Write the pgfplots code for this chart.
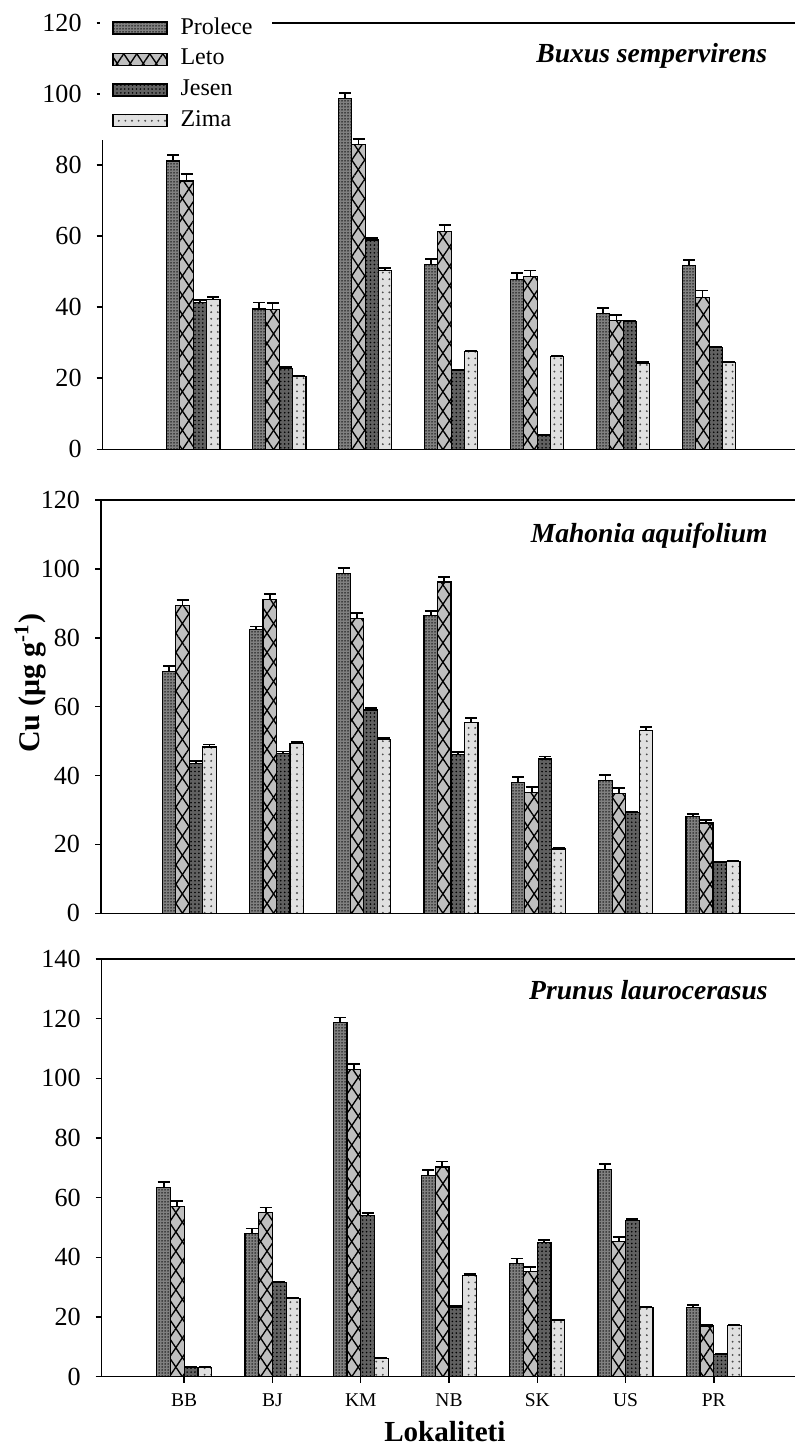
\documentclass[border=0pt]{standalone}
\usepackage{fontspec}
\setmainfont{Liberation Serif}
\usepackage{pgfplots}
\usepackage{pgfplotstable}
\pgfplotsset{compat=1.18}
\usetikzlibrary{patterns.meta}

% Cu content per site and season: value and standard error
\pgfplotstableread{
x p pe l le j je z ze
1 81.1 1.7 75.5 1.9 41.2 0.7 42.2 0.6
2 39.5 1.8 39.4 1.8 22.8 0.3 20.4 0.2
3 98.6 1.6 85.7 1.7 58.9 0.5 50.4 0.6
4 52.0 1.5 61.3 1.8 22.1 0.3 27.5 0.3
5 47.8 1.7 48.6 1.7 4.0 0.1 26.1 0.3
6 38.1 1.6 36.2 1.6 35.9 0.3 24.2 0.3
7 51.7 1.6 42.8 1.9 28.6 0.3 24.4 0.3
}\buxus
\pgfplotstableread{
x p pe l le j je z ze
1 70.1 1.7 89.3 1.7 43.5 0.8 48.3 0.7
2 82.5 0.8 91.0 1.7 46.5 0.5 49.2 0.6
3 98.7 1.5 85.6 1.6 59.0 0.5 50.5 0.5
4 86.5 1.3 96.2 1.5 46.2 0.7 55.5 1.2
5 38.0 1.5 35.0 1.7 44.8 0.7 18.7 0.2
6 38.5 1.7 34.8 1.6 29.2 0.3 53.0 1.0
7 28.0 0.8 26.2 0.8 14.7 0.3 15.0 0.2
}\mahonia
\pgfplotstableread{
x p pe l le j je z ze
1 63.5 1.8 57.0 1.8 3.0 0.2 3.2 0.2
2 48.0 1.7 55.0 1.7 31.5 0.3 26.2 0.3
3 118.6 1.8 103.0 1.7 54.0 0.8 6.0 0.2
4 67.5 1.7 70.3 1.8 23.3 0.3 34.0 0.3
5 38.0 1.6 35.3 1.5 45.0 0.7 19.0 0.2
6 69.5 1.7 45.3 1.5 52.3 0.5 23.2 0.2
7 23.3 0.6 17.0 0.5 7.5 0.2 17.2 0.2
}\prunus

\tikzset{ptitle/.style={anchor=base east, font=\bfseries\itshape\fontsize{9.2}{11}\selectfont}}

\pgfplotsset{
  barPro/.style={draw=black, line width=0.4pt, fill=black!50,
    postaction={pattern={Dots[distance=1pt, radius=0.25pt]}, pattern color=black}},
  barLeto/.style={draw=black, line width=0.4pt, fill=black!25,
    postaction={pattern={Lines[angle=56, distance=3.6pt, line width=0.45pt]}, pattern color=black},
    postaction={pattern={Lines[angle=-56, distance=3.6pt, line width=0.45pt]}, pattern color=black}},
  barJes/.style={draw=black, line width=0.4pt, fill=black!62,
    postaction={pattern={Dots[distance=1.3pt, radius=0.3pt]}, pattern color=black}},
  barZim/.style={draw=black, line width=0.4pt, fill=black!12,
    postaction={pattern={Dots[distance=2.2pt, radius=0.35pt]}, pattern color=black!70}},
  eb/.style={error bars/.cd, y dir=plus, y explicit,
    error bar style={line width=0.6pt, black},
    error mark=|, error mark options={line width=0.6pt, mark size=2pt, black}},
  panel/.style={
    scale only axis, ybar=0pt, clip=false,
    axis x line*=bottom, axis y line*=left,
    axis line style={line width=0.5pt},
    tick align=outside, major tick length=2pt,
    tick style={line width=0.5pt, black},
    ymin=0, enlargelimits=false,
    /pgf/number format/assume math mode=true,
    yticklabel style={font=\fontsize{8.7}{10}\selectfont, xshift=-1.5pt},
  },
}

\begin{document}
\begin{tikzpicture}
\useasboundingbox (0,0) rectangle (265pt,484.67pt);

% Buxus sempervirens
\begin{axis}[panel,
  at={(34.23pt,334.9pt)}, anchor=south west,
  width=230.8pt, height=142.17pt,
  xmin=-0.053, xmax=8.0, ymax=120, ytick={0,20,...,120},
  xtick=\empty, bar width=4.45pt,
  legend style={at={(axis description cs:-0.005,1.035)}, anchor=north west,
    draw=none, fill=white, font=\fontsize{8}{9.6}\selectfont,
    row sep=-0.5pt, inner xsep=4.2pt, inner ysep=1pt, cells={anchor=west}},
  legend image code/.code={\draw[#1] (0pt,-2pt) rectangle (18pt,2pt); \path (20.3pt,0pt);},
]
\draw[line width=0.5pt] (rel axis cs:0.2446,1) -- (rel axis cs:1,1);
\addplot[barPro, eb] table[x=x, y=p, y error=pe]{\buxus};
\addplot[barLeto, eb] table[x=x, y=l, y error=le]{\buxus};
\addplot[barJes, eb] table[x=x, y=j, y error=je]{\buxus};
\addplot[barZim, eb] table[x=x, y=z, y error=ze]{\buxus};
\legend{Prolece, Leto, Jesen, Zima}
\node[ptitle] at (rel axis cs:0.975,0.906) {Buxus sempervirens};
\end{axis}

% Mahonia aquifolium
\begin{axis}[panel,
  at={(33.67pt,180.23pt)}, anchor=south west,
  width=231.33pt, height=137.77pt,
  xmin=-0.011, xmax=7.94, ymax=120, ytick={0,20,...,120},
  xtick=\empty, bar width=4.5pt,
  ylabel={\bfseries Cu (μg g\textsuperscript{-1})},
  ylabel style={at={(axis description cs:-0.102,0.557)}, anchor=center,
    font=\fontsize{10}{12}\selectfont},
]
\draw[line width=0.5pt] (rel axis cs:0,1) -- (rel axis cs:1,1);
\addplot[barPro, eb] table[x=x, y=p, y error=pe]{\mahonia};
\addplot[barLeto, eb] table[x=x, y=l, y error=le]{\mahonia};
\addplot[barJes, eb] table[x=x, y=j, y error=je]{\mahonia};
\addplot[barZim, eb] table[x=x, y=z, y error=ze]{\mahonia};
\node[ptitle] at (rel axis cs:0.976,0.898) {Mahonia aquifolium};
\end{axis}

% Prunus laurocerasus
\begin{axis}[panel,
  at={(33.9pt,25.77pt)}, anchor=south west,
  width=231.1pt, height=139.23pt,
  xmin=0.065, xmax=7.92, ymax=140, ytick={0,20,...,140},
  xtick={1,...,7}, xticklabels={BB,BJ,KM,NB,SK,US,PR},
  xticklabel style={font=\fontsize{6.5}{8}\selectfont},
  bar width=4.58pt,
  xlabel={\bfseries Lokaliteti},
  xlabel style={at={(axis description cs:0.495,0)}, anchor=center, yshift=-18.4pt,
    font=\fontsize{9.7}{11}\selectfont},
]
\draw[line width=0.5pt] (rel axis cs:0,1) -- (rel axis cs:1,1);
\addplot[barPro, eb] table[x=x, y=p, y error=pe]{\prunus};
\addplot[barLeto, eb] table[x=x, y=l, y error=le]{\prunus};
\addplot[barJes, eb] table[x=x, y=j, y error=je]{\prunus};
\addplot[barZim, eb] table[x=x, y=z, y error=ze]{\prunus};
\node[ptitle] at (rel axis cs:0.976,0.902) {Prunus laurocerasus};
\end{axis}
\end{tikzpicture}
\end{document}
